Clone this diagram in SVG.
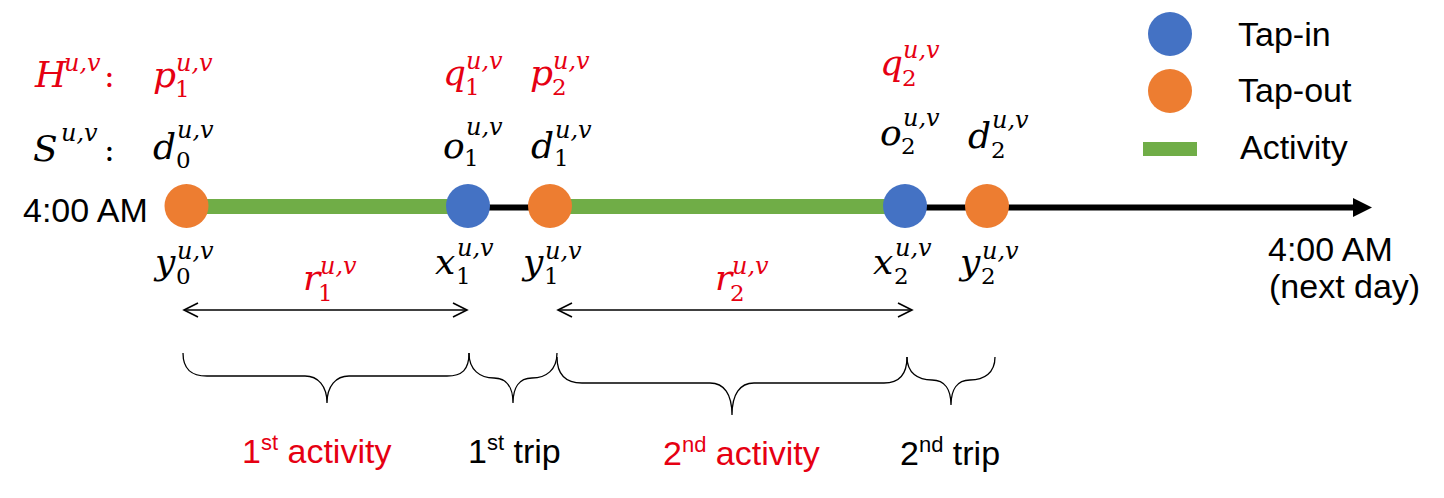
<svg xmlns="http://www.w3.org/2000/svg" width="1444" height="498" viewBox="0 0 1444 498">
<style>
.txt{font-family:"Liberation Sans",Arial,sans-serif;font-size:34px;fill:#000}
.red{fill:#E60012}
.m{font-family:"DejaVu Serif",serif;font-style:italic;font-size:36px}
.s{font-family:"DejaVu Serif",serif;font-style:italic;font-size:24px}
.n{font-family:"DejaVu Serif",serif;font-style:normal;font-size:23px}
.c{font-family:"DejaVu Serif",serif;font-size:32px}
.tin{fill:#4472C4}
.tout{fill:#ED7D31}
.act{fill:#70AD47}
.brace{fill:none;stroke:#000;stroke-width:1.3}
.dbl{stroke:#000;stroke-width:1.6;fill:none}
</style>
<defs>
<marker id="tri" markerUnits="userSpaceOnUse" markerWidth="20" markerHeight="20" refX="0" refY="9.5" orient="auto">
<path d="M0,0 L19,9.5 L0,19 z" fill="#000"/>
</marker>
<marker id="chev" markerUnits="userSpaceOnUse" markerWidth="18" markerHeight="18" refX="15" refY="8" orient="auto-start-reverse">
<path d="M1,1 L15,8 L1,15" fill="none" stroke="#000" stroke-width="1.6"/>
</marker>
</defs>

<g id="connectors">
<line id="timeline" x1="186" y1="207.5" x2="1353" y2="207.5" stroke="#000" stroke-width="6" marker-end="url(#tri)"/>
<line id="span-r1" class="dbl" x1="184" y1="310" x2="467" y2="310" marker-start="url(#chev)" marker-end="url(#chev)"/>
<line id="span-r2" class="dbl" x1="558" y1="310" x2="912" y2="310" marker-start="url(#chev)" marker-end="url(#chev)"/>
<path id="brace-act1" class="brace" d="M183,353 C183,370 192,376 207,376 L305,376 C318,376 327,386 327,403 C327,386 336,376 349,376 L447,376 C462,376 469,370 469,353"/>
<path id="brace-trip1" class="brace" d="M469,353 C469,370 480,378 494,378 C507,378 513,388 513,403 C513,388 519,378 532,378 C546,378 557,370 557,353"/>
<path id="brace-act2" class="brace" d="M557,357 C557,375 566,383 582,383 L710,383 C724,383 732,394 732,415 C732,394 740,383 754,383 L884,383 C899,383 907,375 907,357"/>
<path id="brace-trip2" class="brace" d="M907,357 C907,373 918,380 932,380 C945,380 951,390 951,405 C951,390 957,380 970,380 C984,380 995,373 995,357"/>
</g>

<g id="activity1"><rect class="act" x="206" y="199" width="243" height="15"/></g>
<g id="activity2"><rect class="act" x="570" y="199" width="315" height="15"/></g>

<g id="start-label"><text class="txt" x="23" y="222">4:00 AM</text></g>
<g id="end-label"><text class="txt" x="1268" y="261" font-size="32">4:00 AM</text><text class="txt" x="1269" y="298" font-size="32">(next day)</text></g>

<g id="tapout-y0"><circle class="tout" cx="186.5" cy="206" r="22"/></g>
<g id="tapin-x1"><circle class="tin" cx="468" cy="206" r="22"/></g>
<g id="tapout-y1"><circle class="tout" cx="550" cy="206" r="22"/></g>
<g id="tapin-x2"><circle class="tin" cx="905" cy="206" r="22"/></g>
<g id="tapout-y2"><circle class="tout" cx="987" cy="206" r="22"/></g>

<g id="row-H" class="red">
<text class="red"><tspan class="m" x="35" y="87">H</tspan><tspan class="s" x="64" y="71">u,v</tspan><tspan class="c" x="104" y="87">:</tspan></text>
<text class="red"><tspan class="m" x="153" y="87">p</tspan><tspan class="n" x="175" y="97">1</tspan><tspan class="s" x="176" y="71">u,v</tspan></text>
<text class="red"><tspan class="m" x="443" y="85">q</tspan><tspan class="n" x="465" y="95">1</tspan><tspan class="s" x="466" y="69">u,v</tspan></text>
<text class="red"><tspan class="m" x="530" y="85">p</tspan><tspan class="n" x="552" y="95">2</tspan><tspan class="s" x="553" y="69">u,v</tspan></text>
<text class="red"><tspan class="m" x="880" y="75">q</tspan><tspan class="n" x="902" y="86">2</tspan><tspan class="s" x="903" y="58">u,v</tspan></text>
</g>

<g id="row-S">
<text><tspan class="m" x="33" y="161">S</tspan><tspan class="s" x="61" y="141">u,v</tspan><tspan class="c" x="104" y="161">:</tspan></text>
<text><tspan class="m" x="153" y="159">d</tspan><tspan class="n" x="176" y="168">0</tspan><tspan class="s" x="177" y="138">u,v</tspan></text>
<text><tspan class="m" x="443" y="158">o</tspan><tspan class="n" x="464" y="166">1</tspan><tspan class="s" x="466" y="135">u,v</tspan></text>
<text><tspan class="m" x="531" y="158">d</tspan><tspan class="n" x="554" y="166">1</tspan><tspan class="s" x="555" y="138">u,v</tspan></text>
<text><tspan class="m" x="880" y="145">o</tspan><tspan class="n" x="901" y="154">2</tspan><tspan class="s" x="903" y="126">u,v</tspan></text>
<text><tspan class="m" x="968" y="148">d</tspan><tspan class="n" x="991" y="158">2</tspan><tspan class="s" x="992" y="128">u,v</tspan></text>
</g>

<g id="row-xy">
<text><tspan class="m" x="155" y="274">y</tspan><tspan class="n" x="176" y="284">0</tspan><tspan class="s" x="177" y="259">u,v</tspan></text>
<text><tspan class="m" x="435" y="274">x</tspan><tspan class="n" x="456" y="284">1</tspan><tspan class="s" x="457" y="256">u,v</tspan></text>
<text><tspan class="m" x="523" y="274">y</tspan><tspan class="n" x="544" y="284">1</tspan><tspan class="s" x="545" y="259">u,v</tspan></text>
<text><tspan class="m" x="873" y="274">x</tspan><tspan class="n" x="894" y="284">2</tspan><tspan class="s" x="895" y="256">u,v</tspan></text>
<text><tspan class="m" x="960" y="274">y</tspan><tspan class="n" x="981" y="284">2</tspan><tspan class="s" x="982" y="259">u,v</tspan></text>
</g>

<g id="label-r1" class="red"><text class="red"><tspan class="m" x="303" y="290">r</tspan><tspan class="n" x="318" y="301">1</tspan><tspan class="s" x="320" y="274">u,v</tspan></text></g>
<g id="label-r2" class="red"><text class="red"><tspan class="m" x="715" y="290">r</tspan><tspan class="n" x="730" y="301">2</tspan><tspan class="s" x="732" y="274">u,v</tspan></text></g>

<g id="label-act1"><text class="txt red" x="242" y="463">1<tspan font-size="22" dy="-13">st</tspan><tspan dy="13"> activity</tspan></text></g>
<g id="label-trip1"><text class="txt" x="468" y="463">1<tspan font-size="22" dy="-13">st</tspan><tspan dy="13"> trip</tspan></text></g>
<g id="label-act2"><text class="txt red" x="663" y="465">2<tspan font-size="22" dy="-13">nd</tspan><tspan dy="13"> activity</tspan></text></g>
<g id="label-trip2"><text class="txt" x="900" y="465">2<tspan font-size="22" dy="-13">nd</tspan><tspan dy="13"> trip</tspan></text></g>

<g id="legend-tapin"><circle class="tin" cx="1170" cy="34" r="22"/><text class="txt" x="1238" y="46" font-size="32">Tap-in</text></g>
<g id="legend-tapout"><circle class="tout" cx="1170" cy="91" r="22"/><text class="txt" x="1238" y="102" font-size="32">Tap-out</text></g>
<g id="legend-activity"><rect class="act" x="1143" y="142" width="54" height="14"/><text class="txt" x="1240" y="159" font-size="32">Activity</text></g>
</svg>
